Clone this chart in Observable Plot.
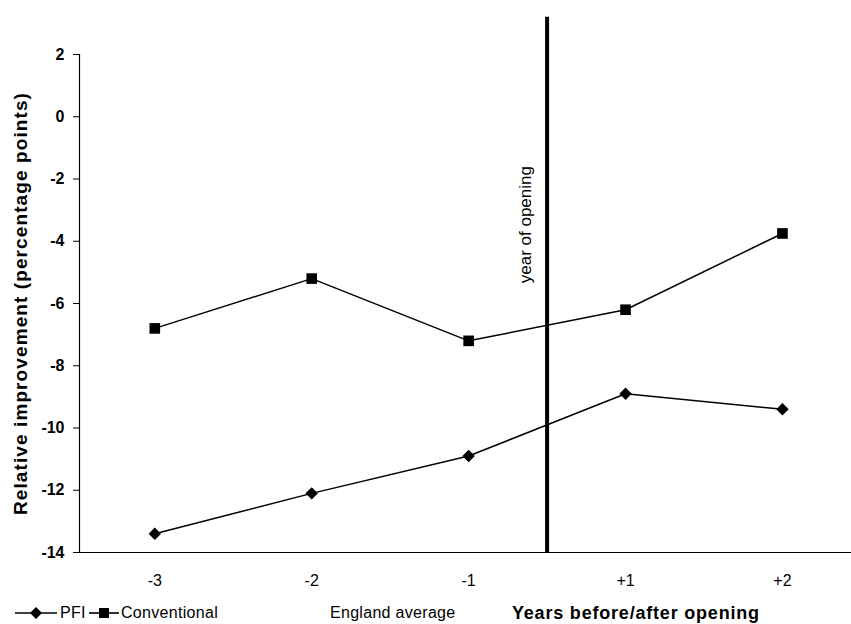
<!DOCTYPE html>
<html>
<head>
<meta charset="utf-8">
<script src="https://cdn.jsdelivr.net/npm/d3@7"></script>
<script src="https://cdn.jsdelivr.net/npm/@observablehq/plot@0.6"></script>
<style>
  html, body { margin: 0; padding: 0; background: #fff; }
  #wrap { position: relative; width: 851px; height: 624px; font-family: "Liberation Sans", Arial, sans-serif; color: #000; }
  #legend { position: absolute; left: 0; top: 604px; width: 851px; height: 20px; font-size: 16px; }
  #legend .item { position: absolute; top: 0; line-height: 18px; white-space: nowrap; letter-spacing: 0.3px; }
  #legend svg { vertical-align: middle; position: relative; top: -1px; }
  [aria-label="y-axis label"] text { letter-spacing: 1.1px; }
  g[aria-label="y-axis tick label"] { font-size: 16px !important; font-weight: bold; }
  g[aria-label="x-axis tick label"] { font-size: 16px !important; }
</style>
</head>
<body>
<div id="wrap">
  <div id="chart"></div>
  <div id="legend"></div>
</div>
<script>
// ---- data ----
const categories = ["-3", "-2", "-1", "+1", "+2"];
const pfi = [-13.4, -12.1, -10.9, -8.9, -9.4];
const conventional = [-6.8, -5.2, -7.2, -6.2, -3.75];
const yTicks = [2, 0, -2, -4, -6, -8, -10, -12, -14];
const openingLabel = "year of opening";
const openingAt = 2.5;      // between "-1" and "+1"
const openingTop = 3.2;     // line extends above the plot
const openingTextBottom = -5.35;
const legendLabels = ["PFI", "Conventional", "England average", "Years before/after opening"];

const xDomain = [-0.48, 4.44];
const yDomain = [-14, 2];

const rows = categories.map((c, i) => ({i, cat: c, pfi: pfi[i], conventional: conventional[i]}));

const chart = Plot.plot({
  width: 851,
  height: 604,
  marginLeft: 79,
  marginRight: 0,
  marginTop: 54,
  marginBottom: 52,
  style: {fontFamily: "'Liberation Sans', Arial, sans-serif", fontSize: "15px", color: "#000", background: "#fff", overflow: "visible"},
  x: {domain: xDomain, label: null},
  y: {domain: yDomain, label: null},
  marks: [
    Plot.axisY({ticks: yTicks, tickFormat: (d) => String(d), tickSize: 6, tickPadding: 9, label: "Relative improvement (percentage points)", labelAnchor: "center", labelArrow: "none", labelOffset: 66}),
    Plot.axisX({ticks: categories.map((c, i) => i), tickFormat: (i) => categories[i], tickSize: 0, tickPadding: 22, label: null}),
    Plot.ruleX([xDomain[0]], {stroke: "#000", strokeWidth: 1.2}),
    Plot.ruleY([yDomain[0]], {stroke: "#000", strokeWidth: 1.2}),
    Plot.ruleX([openingAt], {y1: openingTop, y2: yDomain[0], stroke: "#000", strokeWidth: 4, clip: false}),
    Plot.text([openingLabel], {x: openingAt, y: openingTextBottom, rotate: -90, textAnchor: "start", dx: -22, fontSize: 17, fill: "#000"}),
    Plot.line(rows, {x: "i", y: "conventional", stroke: "#000", strokeWidth: 1.5}),
    Plot.dot(rows, {x: "i", y: "conventional", symbol: "square", r: 6, fill: "#000", stroke: "none"}),
    Plot.line(rows, {x: "i", y: "pfi", stroke: "#000", strokeWidth: 1.5}),
    Plot.dot(rows, {x: "i", y: "pfi", symbol: "diamond2", r: 5.6, fill: "#000", stroke: "none"})
  ]
});
chart.querySelectorAll('[aria-label="y-axis label"] text').forEach(t => { t.setAttribute("font-weight", "bold"); t.setAttribute("font-size", "19"); });
document.getElementById("chart").appendChild(chart);

// ---- legend (below the chart) ----
function swatch(kind, w) {
  const c = w / 2;
  const shape = kind === "diamond"
    ? `<path d="M${c},2 L${c + 6},8 L${c},14 L${c - 6},8 Z" fill="#000"/>`
    : `<rect x="${c - 5}" y="3" width="10" height="10" fill="#000"/>`;
  return `<svg width="${w}" height="16" viewBox="0 0 ${w} 16"><line x1="0" y1="8" x2="${w}" y2="8" stroke="#000" stroke-width="1.6"/>${shape}</svg>`;
}
const legend = document.getElementById("legend");
legend.innerHTML = `
  <span class="item" style="left:15px">${swatch("diamond", 42)}</span>
  <span class="item" style="left:60px">${legendLabels[0]}</span>
  <span class="item" style="left:89px">${swatch("square", 30)}</span>
  <span class="item" style="left:121px">${legendLabels[1]}</span>
  <span class="item" style="left:330px">${legendLabels[2]}</span>
  <span class="item" style="left:512px;font-weight:bold;font-size:18px;letter-spacing:0.8px">${legendLabels[3]}</span>
`;
</script>
</body>
</html>
